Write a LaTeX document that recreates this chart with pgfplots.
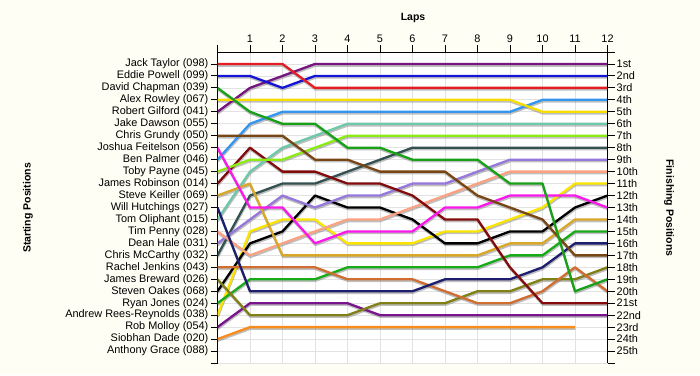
\documentclass[border=0pt]{standalone}
\usepackage{fontspec}
\setmainfont{Liberation Sans}
\usepackage{pgfplots}
\usepackage{pgfplotstable}
\pgfplotsset{compat=1.18}

\definecolor{bgc}{RGB}{254,254,244}
\definecolor{gridc}{RGB}{226,226,226}
\definecolor{cJT}{RGB}{228,28,36}
\definecolor{cEP}{RGB}{20,20,215}
\definecolor{cDC}{RGB}{25,160,25}
\definecolor{cAR}{RGB}{248,222,0}
\definecolor{cRG}{RGB}{118,20,128}
\definecolor{cCG}{RGB}{120,70,20}
\definecolor{cJF}{RGB}{250,25,235}
\definecolor{cBP}{RGB}{50,150,240}
\definecolor{cTP}{RGB}{140,235,20}
\definecolor{cJR}{RGB}{130,12,12}
\definecolor{cSK}{RGB}{218,168,40}
\definecolor{cWH}{RGB}{30,30,110}
\definecolor{cTO}{RGB}{110,200,170}
\definecolor{cTPe}{RGB}{250,162,130}
\definecolor{cDH}{RGB}{150,120,220}
\definecolor{cCM}{RGB}{52,80,80}
\definecolor{cRJ}{RGB}{208,110,50}
\definecolor{cJB}{RGB}{128,128,22}
\definecolor{cSO}{RGB}{0,0,0}
\definecolor{cRyJ}{RGB}{25,170,25}
\definecolor{cARR}{RGB}{250,228,0}
\definecolor{cRM}{RGB}{120,20,140}
\definecolor{cSD}{RGB}{250,140,30}

\pgfplotstableread{
lap JT EP DC AR RG CG JF BP TP JR SK WH TO TPe DH CM RJ JB SO RyJ ARR RM SD
0  1 2 3  4 5 7  8  9 10 11 12 13 14 15 16 17 18 19 20 21 22 23 24
1  1 2 5  4 3 7  13 6 9  8  11 20 10 17 14 12 18 22 16 19 15 21 23
2  1 3 6  4 2 7  13 5 9  10 17 20 8  16 12 11 18 22 15 19 14 21 23
3  3 2 6  4 1 9  16 5 8  10 17 20 7  15 13 11 18 22 12 19 14 21 23
4  3 2 8  4 1 9  15 5 7  11 17 20 6  14 12 10 19 22 13 18 16 21 23
5  3 2 8  4 1 10 15 5 7  11 17 20 6  14 12 9  19 21 13 18 16 22 23
6  3 2 9  4 1 10 15 5 7  12 17 20 6  13 11 8  19 21 14 18 16 22 23
7  3 2 9  4 1 10 13 5 7  14 17 19 6  12 11 8  20 21 16 18 15 22 23
8  3 2 9  4 1 12 13 5 7  14 17 19 6  11 10 8  21 20 16 18 15 22 23
9  3 2 11 4 1 13 12 5 7  18 16 19 6  10 9  8  21 20 15 17 14 22 23
10 3 2 11 5 1 14 12 4 7  21 16 18 6  10 9  8  20 19 15 17 13 22 23
11 3 2 20 5 1 17 12 4 7  21 14 16 6  10 9  8  18 19 13 15 11 22 23
12 3 2 19 5 1 17 13 4 7  21 14 16 6  10 9  8  20 18 12 15 11 22 nan
}\laps

\newcommand{\drvshadow}[1]{\addplot[black!55, opacity=0.45, line width=2.2pt, line join=round, yshift=-1.7pt, xshift=0.4pt] table[x=lap,y=#1]{\laps};}
\newcommand{\drv}[1]{\addplot[c#1, line width=2.3pt, line join=round] table[x=lap,y=#1]{\laps};}

\begin{document}
\begin{tikzpicture}[x=1pt,y=1pt]
\fill[bgc] (0,0) rectangle (700,375);
\begin{axis}[
  at={(217.5pt,12pt)}, anchor=south west, scale only axis,
  width=390pt, height=311pt,
  xmin=0, xmax=12, ymin=0, ymax=26, y dir=reverse,
  axis x line*=top, axis y line*=left,
  xticklabel pos=upper, yticklabel pos=left,
  axis line style={-, black, line width=0.9pt},
  xtick={0,...,12}, xticklabels={,1,2,3,4,5,6,7,8,9,10,11,12},
  ytick={1,...,26},
  yticklabels={Jack Taylor (098),Eddie Powell (099),David Chapman (039),Alex Rowley (067),Robert Gilford (041),Jake Dawson (055),Chris Grundy (050),Joshua Feitelson (056),Ben Palmer (046),Toby Payne (045),James Robinson (014),Steve Keiller (069),Will Hutchings (027),Tom Oliphant (015),Tim Penny (028),Dean Hale (031),Chris McCarthy (032),Rachel Jenkins (043),James Breward (026),Steven Oakes (068),Ryan Jones (024),Andrew Rees-Reynolds (038),Rob Molloy (054),Siobhan Dade (020),Anthony Grace (088),},
  tick align=outside, major tick length=7pt,
  tick style={black, line width=0.9pt},
  grid=major, grid style={gridc, line width=0.7pt},
  axis background/.style={fill=white},
  ticklabel style={font=\fontsize{10.9}{12}\selectfont},
  yticklabel style={inner sep=2pt},
  xticklabel style={inner sep=2pt},
  /pgf/number format/assume math mode=true,
]
\drvshadow{SD}\drvshadow{RM}\drvshadow{ARR}\drvshadow{RyJ}\drvshadow{SO}\drvshadow{JB}\drvshadow{RJ}\drvshadow{CM}\drvshadow{DH}\drvshadow{TPe}\drvshadow{TO}\drvshadow{WH}\drvshadow{SK}\drvshadow{JR}\drvshadow{TP}\drvshadow{BP}\drvshadow{JF}\drvshadow{CG}\drvshadow{RG}\drvshadow{AR}\drvshadow{DC}\drvshadow{EP}\drvshadow{JT}
\drv{SD}\drv{RM}\drv{ARR}\drv{RyJ}\drv{SO}\drv{JB}\drv{RJ}\drv{CM}\drv{DH}\drv{TPe}\drv{TO}\drv{WH}\drv{SK}\drv{JR}\drv{TP}\drv{BP}\drv{JF}\drv{CG}\drv{RG}\drv{AR}\drv{DC}\drv{EP}\drv{JT}
\end{axis}
\begin{axis}[
  at={(217.5pt,12pt)}, anchor=south west, scale only axis,
  width=390pt, height=311pt,
  xmin=0, xmax=12, ymin=0, ymax=26, y dir=reverse,
  axis x line=none, axis y line*=right, yticklabel pos=right,
  axis line style={-, black, line width=0.9pt},
  ytick={0,...,26},
  yticklabels={,1st,2nd,3rd,4th,5th,6th,7th,8th,9th,10th,11th,12th,13th,14th,15th,16th,17th,18th,19th,20th,21st,22nd,23rd,24th,25th,},
  tick align=outside, major tick length=7pt,
  tick style={black, line width=0.9pt},
  ticklabel style={font=\fontsize{10.9}{12}\selectfont},
  yticklabel style={inner sep=2pt},
]
\addplot[draw=none] coordinates {(0,1)};
\end{axis}
\node[font=\bfseries\fontsize{10.5}{12}\selectfont] at (413,357) {Laps};
\node[rotate=90, font=\bfseries\fontsize{10.5}{12}\selectfont] at (28,167) {Starting Positions};
\node[rotate=-90, font=\bfseries\fontsize{10.5}{12}\selectfont] at (669,167) {Finishing Positions};
\end{tikzpicture}
\end{document}
